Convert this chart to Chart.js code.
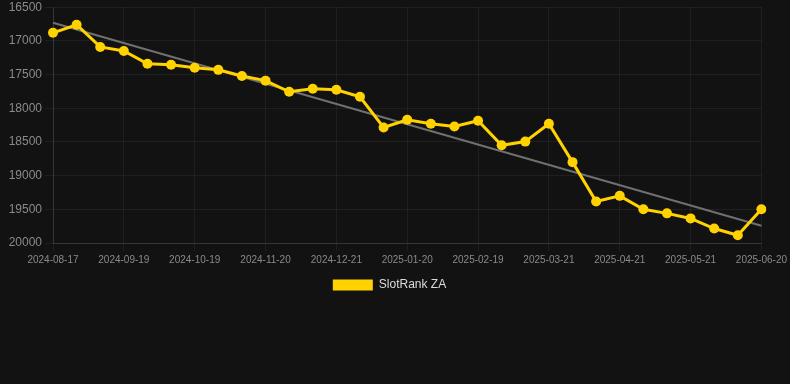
<!DOCTYPE html>
<html>
<head>
<meta charset="utf-8">
<script src="https://cdn.jsdelivr.net/npm/chart.js@4/dist/chart.umd.min.js"></script>
<style>
    html, body { margin: 0; padding: 0; background: #121212; }
    #wrap { width: 790px; height: 301px; position: relative; }
</style>
</head>
<body>
<div id="wrap"><canvas id="rank-chart"></canvas></div>
<script>
// Rank history (lower is better, axis is reversed)
const dates = [
    '2024-08-17', '2024-08-28', '2024-09-08', '2024-09-19', '2024-09-29', '2024-10-09',
    '2024-10-19', '2024-10-30', '2024-11-09', '2024-11-20', '2024-11-30', '2024-12-11',
    '2024-12-21', '2024-12-31', '2025-01-10', '2025-01-20', '2025-01-30', '2025-02-09',
    '2025-02-19', '2025-03-01', '2025-03-11', '2025-03-21', '2025-03-31', '2025-04-11',
    '2025-04-21', '2025-05-01', '2025-05-11', '2025-05-21', '2025-05-31', '2025-06-10',
    '2025-06-20'
];
const rankValues = [
    16880, 16760, 17090, 17150, 17340, 17355, 17400, 17430, 17520, 17590,
    17755, 17710, 17725, 17830, 18285, 18170, 18230, 18270, 18185, 18550,
    18495, 18230, 18800, 19385, 19300, 19500, 19560, 19635, 19785, 19885,
    19500
];
// trend line end points (first and last date)
const trendStart = 16730;
const trendEnd = 19745;
const yTicks = [16500, 17000, 17500, 18000, 18500, 19000, 19500, 20000];

const ctx = document.getElementById('rank-chart').getContext('2d');

new Chart(ctx, {
    type: 'line',
    data: {
        labels: dates,
        datasets: [{
            label: 'SlotRank ZA',
            data: rankValues,
            borderColor: '#FFD200',
            backgroundColor: '#FFD200',
            borderWidth: 3,
            pointRadius: 5,
            pointBackgroundColor: '#FFD200',
            pointBorderWidth: 0,
            tension: 0
        }, {
            label: 'trend',
            data: [
                { x: dates[0], y: trendStart },
                { x: dates[dates.length - 1], y: trendEnd }
            ],
            borderColor: '#707070',
            borderWidth: 2,
            pointRadius: 0,
            tension: 0
        }]
    },
    options: {
        responsive: true,
        maintainAspectRatio: false,
        animation: false,
        // right padding only nudges the legend; the last x label already sets the chart edge
        layout: { padding: { top: 0, left: 0, right: 11, bottom: 0 } },
        plugins: {
            legend: {
                position: 'bottom',
                labels: {
                    color: '#dcdcdc',
                    boxWidth: 40,
                    boxHeight: 11,
                    font: { family: 'Liberation Sans, Arial, sans-serif', size: 12 },
                    filter: item => item.text !== 'trend',
                    generateLabels: chart => Chart.defaults.plugins.legend.labels.generateLabels(chart)
                        .map(item => Object.assign(item, { lineWidth: 0 }))
                }
            },
            tooltip: { enabled: false }
        },
        scales: {
            y: {
                reverse: true,
                min: yTicks[0],
                max: yTicks[yTicks.length - 1],
                afterBuildTicks: axis => { axis.ticks = yTicks.map(v => ({ value: v })); },
                afterFit: axis => { axis.width = 53; },
                grid: { color: 'rgba(255,255,255,0.06)' },
                border: { color: 'rgba(255,255,255,0.1)' },
                ticks: {
                    color: '#8a8a8a',
                    callback: v => String(v),
                    font: { family: 'Liberation Sans, Arial, sans-serif', size: 12, lineHeight: 0.7 }
                }
            },
            x: {
                grid: { color: 'rgba(255,255,255,0.06)' },
                border: { color: 'rgba(255,255,255,0.1)' },
                ticks: {
                    color: '#8a8a8a',
                    maxRotation: 0,
                    autoSkip: true,
                    maxTicksLimit: 11,
                    font: { family: 'Liberation Sans, Arial, sans-serif', size: 10 }
                }
            }
        }
    }
});
</script>
</body>
</html>
